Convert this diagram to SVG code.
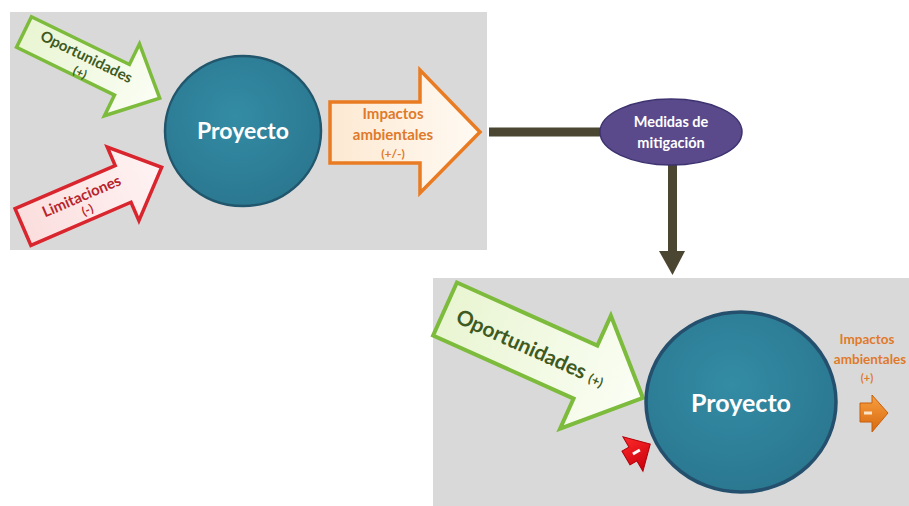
<svg xmlns="http://www.w3.org/2000/svg" width="909" height="506" viewBox="0 0 909 506">
  <defs>
    <style>
      .panel { fill: #d9d9d9; }
      .lbl { font-family: Lato, "Liberation Sans", sans-serif; font-weight: bold; text-anchor: middle; }
      .green-t { fill: #3e5a22; }
      .red-t { fill: #b8242c; }
      .orange-t { fill: #e07a2a; }
      .white-t { fill: #ffffff; }
      .conn { stroke: #4b4631; stroke-width: 9; fill: none; }
    </style>
    <linearGradient id="gFill" x1="0" y1="0" x2="1" y2="0">
      <stop offset="0" stop-color="#e9f5d2"/>
      <stop offset="1" stop-color="#fbfef5"/>
    </linearGradient>
    <linearGradient id="rFill" x1="0" y1="0" x2="1" y2="0">
      <stop offset="0" stop-color="#fbdede"/>
      <stop offset="1" stop-color="#fff3f3"/>
    </linearGradient>
    <linearGradient id="oFill" x1="0" y1="0" x2="1" y2="0">
      <stop offset="0" stop-color="#fde9d2"/>
      <stop offset="1" stop-color="#fffaf3"/>
    </linearGradient>
    <radialGradient id="ball" cx="0.45" cy="0.4" r="0.65">
      <stop offset="0" stop-color="#338ca4"/>
      <stop offset="1" stop-color="#2a768f"/>
    </radialGradient>
    <linearGradient id="redSmall" x1="0" y1="0" x2="0" y2="1">
      <stop offset="0" stop-color="#ff2a2a"/>
      <stop offset="1" stop-color="#c8000c"/>
    </linearGradient>
    <linearGradient id="orSmall" x1="0" y1="0" x2="0" y2="1">
      <stop offset="0" stop-color="#f7a040"/>
      <stop offset="1" stop-color="#d8680e"/>
    </linearGradient>
  </defs>

  <!-- background panels -->
  <rect class="panel" x="10" y="12" width="477" height="238"/>
  <rect class="panel" x="433" y="278" width="476" height="228"/>

  <!-- upper scheme -->
  <g id="oportunidades-1" transform="translate(24,32) rotate(26)">
    <path d="M0,-17 L109,-17 L109,-40 L151,0 L109,40 L109,17 L0,17 Z" fill="url(#gFill)" stroke="#7dbb3c" stroke-width="3.5"/>
    <text class="lbl green-t" x="67" y="0" font-size="15">Oportunidades</text>
    <text class="lbl green-t" x="68" y="16" font-size="12">(+)</text>
  </g>

  <g id="limitaciones-1" transform="translate(23,227) rotate(-23.3)">
    <path d="M0,-20 L109,-20 L109,-40 L151,0 L109,40 L109,20 L0,20 Z" fill="url(#rFill)" stroke="#d9252d" stroke-width="3.5"/>
    <text class="lbl red-t" x="66" y="0" font-size="15">Limitaciones</text>
    <text class="lbl red-t" x="66" y="14" font-size="12">(-)</text>
  </g>

  <g id="proyecto-1">
    <ellipse cx="243" cy="131" rx="78" ry="75" fill="url(#ball)" stroke="#21566c" stroke-width="2.5"/>
    <text class="lbl white-t" x="243" y="139" font-size="23">Proyecto</text>
  </g>

  <g id="impactos-1">
    <path d="M330,102 L420,102 L420,70 L480,132 L420,193 L420,163 L330,163 Z" fill="url(#oFill)" stroke="#e97b22" stroke-width="3.5"/>
    <text class="lbl orange-t" x="393" y="119" font-size="15">Impactos</text>
    <text class="lbl orange-t" x="393" y="140" font-size="15">ambientales</text>
    <text class="lbl orange-t" x="393" y="158" font-size="12">(+/-)</text>
  </g>

  <!-- connectors -->
  <g id="connectors">
    <line class="conn" x1="489" y1="132" x2="610" y2="132"/>
    <line class="conn" x1="672.5" y1="160" x2="672.5" y2="253"/>
    <path d="M659,251 L685,251 L672.5,275 Z" fill="#4b4631"/>
  </g>

  <g id="medidas">
    <ellipse cx="671" cy="132" rx="71" ry="33" fill="#5a4a8b" stroke="#3e3370" stroke-width="1.5"/>
    <text class="lbl white-t" x="671" y="127" font-size="14.5">Medidas de</text>
    <text class="lbl white-t" x="671" y="148" font-size="14.5">mitigación</text>
  </g>

  <!-- lower scheme -->
  <g id="oportunidades-2" transform="translate(445,309) rotate(24.2)">
    <path d="M0,-29 L154,-29 L154,-62 L217,0 L154,62 L154,29 L0,29 Z" fill="url(#gFill)" stroke="#7dbb3c" stroke-width="4"/>
    <text class="lbl green-t" x="14" y="8" font-size="21" style="text-anchor:start">Oportunidades <tspan font-size="13">(+)</tspan></text>
  </g>

  <g id="limitaciones-2" transform="translate(626,458) rotate(-30)">
    <path d="M0,-8 L8,-8 L8,-20 L28,0 L8,20 L8,8 L0,8 Z" fill="url(#redSmall)" stroke="#b0000a" stroke-width="1"/>
    <rect x="8" y="-1.5" width="8" height="3" fill="#ffffff"/>
  </g>

  <g id="proyecto-2">
    <ellipse cx="741" cy="402" rx="95" ry="90" fill="url(#ball)" stroke="#24506e" stroke-width="3.5"/>
    <text class="lbl white-t" x="741" y="412" font-size="25">Proyecto</text>
  </g>

  <g id="impactos-2">
    <text class="lbl orange-t" x="867" y="344" font-size="13.5">Impactos</text>
    <text class="lbl orange-t" x="870" y="364" font-size="13.5">ambientales</text>
    <text class="lbl orange-t" x="867" y="382" font-size="11">(+)</text>
    <path d="M860,403 L872,403 L872,395 L888,413 L872,432 L872,422 L860,422 Z" fill="url(#orSmall)" stroke="#c85f0c" stroke-width="1"/>
    <rect x="864" y="411.5" width="8" height="3" fill="#fbe3c8"/>
  </g>
</svg>
